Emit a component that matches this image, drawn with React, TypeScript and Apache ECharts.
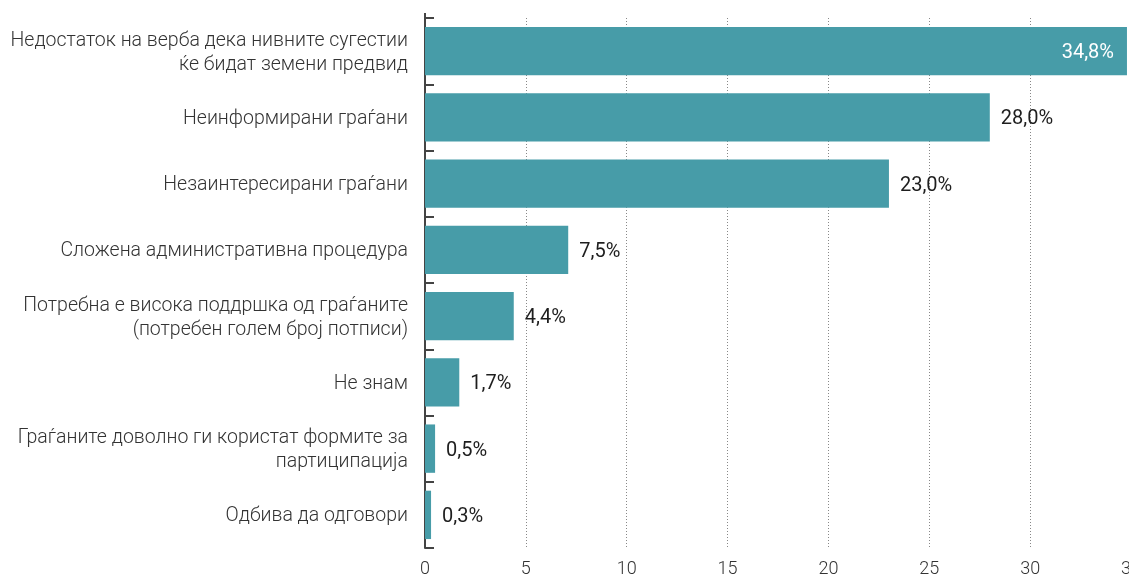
import React, { useEffect, useRef } from "react";
import * as echarts from "echarts";

const categories = [
  "Недостаток на верба дека нивните сугестии\nќе бидат земени предвид",
  "Неинформирани граѓани",
  "Незаинтересирани граѓани",
  "Сложена административна процедура",
  "Потребна е висока поддршка од граѓаните\n(потребен голем број потписи)",
  "Не знам",
  "Граѓаните доволно ги користат формите за\nпартиципација",
  "Одбива да одговори",
];
const values = [34.8, 28.0, 23.0, 7.1, 4.4, 1.7, 0.5, 0.3];
const valueLabels = ["34,8%", "28,0%", "23,0%", "7,5%", "4,4%", "1,7%", "0,5%", "0,3%"];
const xTicks = [0, 5, 10, 15, 20, 25, 30, 35];

const FONT = "Roboto";

export default function App() {
  const ref = useRef<HTMLDivElement>(null);
  useEffect(() => {
    const chart = echarts.init(ref.current!, null, { renderer: "svg" });
    const data = values.map((v, i) => ({
      value: v,
      label:
        i === 0
          ? { position: "insideRight", color: "#ffffff", distance: 13 }
          : { position: "right", color: "#1e1e1e", distance: 11 },
    }));
    chart.setOption({
      animation: false,
      textStyle: { fontFamily: FONT },
      grid: {
        left: 425,
        right: -2,
        top: 18,
        bottom: 31,
        containLabel: false,
        outerBoundsMode: "none",
      },
      graphic: [
        {
          type: "line",
          shape: { x1: 425, y1: 13, x2: 425, y2: 19 },
          style: { stroke: "#444", lineWidth: 2 },
        },
      ],
      xAxis: {
        type: "value",
        min: xTicks[0],
        max: xTicks[xTicks.length - 1],
        interval: 5,
        axisLine: { show: false },
        axisTick: { show: false },
        axisLabel: {
          color: "#333",
          fontSize: 18,
          fontWeight: 300,
          margin: 10,
          fontFamily: FONT,
        },
        splitLine: {
          show: true,
          lineStyle: { color: "#888", type: [1, 2], width: 1 },
        },
      },
      yAxis: {
        type: "category",
        inverse: true,
        data: categories,
        axisLine: { show: true, lineStyle: { color: "#444", width: 2 } },
        axisTick: {
          show: true,
          inside: true,
          length: 9,
          lineStyle: { color: "#444", width: 2 },
        },
        axisLabel: {
          color: "#333",
          fontSize: 19.5,
          fontWeight: 300,
          lineHeight: 24,
          margin: 17,
          align: "right",
          fontFamily: FONT,
        },
        splitLine: { show: false },
      },
      series: [
        {
          type: "bar",
          data,
          barCategoryGap: "27%",
          itemStyle: { color: "#479ca8" },
          label: {
            show: true,
            fontSize: 20,
            fontFamily: FONT,
            formatter: (p: any) => valueLabels[p.dataIndex],
          },
        },
      ],
    });
    return () => chart.dispose();
  }, []);
  return (
    <div
      ref={ref}
      style={{ position: "fixed", left: 0, top: 0, width: 1129, height: 579 }}
    />
  );
}
